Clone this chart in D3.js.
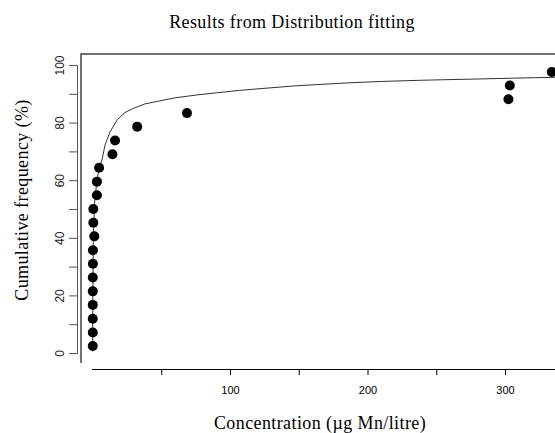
<html>
<head>
    <title>Results from Distribution fitting</title>
    <style>
        body{
            margin: 0;
            background: white;
        }
        svg{
            display: block;
        }
        .tick text{
            font-family: "Liberation Sans Narrow", "Liberation Sans", Arial, sans-serif;
            font-size: 11px;
        }
        .title{
            font-family: "Liberation Serif", "Times New Roman", serif;
            font-size: 18px;
            letter-spacing: 0.4px;
        }
    </style>
</head>
<body>
    <script src="https://d3js.org/d3.v7.min.js"></script>
    <script>
        // observed cumulative frequencies (%) and concentrations (ug Mn/litre)
        const freq = [2.4, 7.1, 11.9, 16.7, 21.4, 26.2, 31.0, 35.7, 40.5, 45.2, 50.0,
                      54.8, 59.5, 64.3, 69.0, 73.8, 78.6, 83.3, 88.1, 92.9, 97.6]
        const conc = [0.2, 0.2, 0.2, 0.2, 0.2, 0.2, 0.3, 0.3, 1.3, 0.6, 0.6,
                      3.2, 3.2, 4.8, 14.5, 16.4, 32.5, 68.7, 302.5, 303.5, 334]

        // fitted distribution curve
        const fitConc = [0.1, 0.3, 0.6, 1.5, 3, 4.7, 6.9, 9.1, 12.7, 18, 23.6, 30, 38.2, 45.5,
                         60, 75.8, 107, 148.5, 186, 211, 239, 276, 322, 345]
        const fitFreq = [0.5, 20, 40, 52, 59, 64.2, 67, 72.2, 76.7, 81, 83.5, 85, 86.5, 87.2,
                         88.6, 89.6, 91.2, 92.8, 93.8, 94.3, 94.7, 95.1, 95.6, 95.8]

        const xTicks = [50, 100, 150, 200, 250, 300]
        const xLabels = [100, 200, 300]
        const yTicks = [0, 10, 20, 30, 40, 50, 60, 70, 80, 90, 100]
        const yLabels = [0, 20, 40, 60, 80, 100]

        const width = 555
        const height = 433

        const svg = d3.select("body")
                    .append("svg")
                    .attr("width", width)
                    .attr("height", height)

        // Scales
        const xScale = d3.scaleLinear()
                        .domain([0, 300])
                        .range([92.5, 505])

        const yScale = d3.scaleLinear()
                        .domain([0, 100])
                        .range([353, 65])

        // Plot frame (left and top edges only, the rest is cropped)
        svg.append("path")
            .attr("d", "M81,363 V54 H" + width)
            .attr("fill", "none")
            .attr("stroke", "#444")
            .attr("stroke-width", 1.5)

        // X axis
        const xAxis = d3.axisBottom(xScale)
                        .tickValues(xTicks)
                        .tickSize(6)
                        .tickFormat(d => xLabels.includes(d) ? d : "")
        const gx = svg.append("g")
            .attr("id", "x-axis")
            .attr("transform", "translate(0,369)")
            .call(xAxis)
        gx.select(".domain").attr("d", "M92,0.5 H" + width)
        gx.selectAll(".tick text").attr("dy", "1.45em")

        // Y axis
        const yAxis = d3.axisLeft(yScale)
                        .tickValues(yTicks)
                        .tickSize(8)
                        .tickFormat(d => yLabels.includes(d) ? d : "")
        const gy = svg.append("g")
            .attr("id", "y-axis")
            .attr("transform", "translate(77,0)")
            .call(yAxis)
        gy.selectAll(".domain, .tick line").attr("stroke", "#555")
        gy.selectAll(".tick text")
            .attr("transform", "rotate(-90)")
            .attr("x", 0)
            .attr("y", -13)
            .attr("dy", 0)
            .attr("text-anchor", "middle")
            .attr("fill", "#222")
            .style("font-size", "12px")

        // Fitted curve
        const line = d3.line()
                    .x(i => xScale(fitConc[i]))
                    .y(i => yScale(fitFreq[i]))
        svg.append("path")
            .attr("d", line(d3.range(fitConc.length)))
            .attr("fill", "none")
            .attr("stroke", "#333")
            .attr("stroke-width", 1)

        // Observed points
        svg.append("g")
            .selectAll("circle")
            .data(d3.range(freq.length))
            .join("circle")
            .attr("cx", i => xScale(conc[i]))
            .attr("cy", i => yScale(freq[i]))
            .attr("r", 5)
            .attr("fill", "black")

        // Titles
        svg.append("text")
            .attr("class", "title")
            .attr("x", 292)
            .attr("y", 28)
            .attr("text-anchor", "middle")
            .text("Results from Distribution fitting")

        svg.append("text")
            .attr("class", "title")
            .attr("x", 320)
            .attr("y", 429)
            .attr("text-anchor", "middle")
            .text("Concentration (\u00b5g Mn/litre)")

        svg.append("text")
            .attr("class", "title")
            .attr("transform", "translate(28,200) rotate(-90)")
            .attr("text-anchor", "middle")
            .text("Cumulative frequency (%)")
    </script>
</body>
</html>
